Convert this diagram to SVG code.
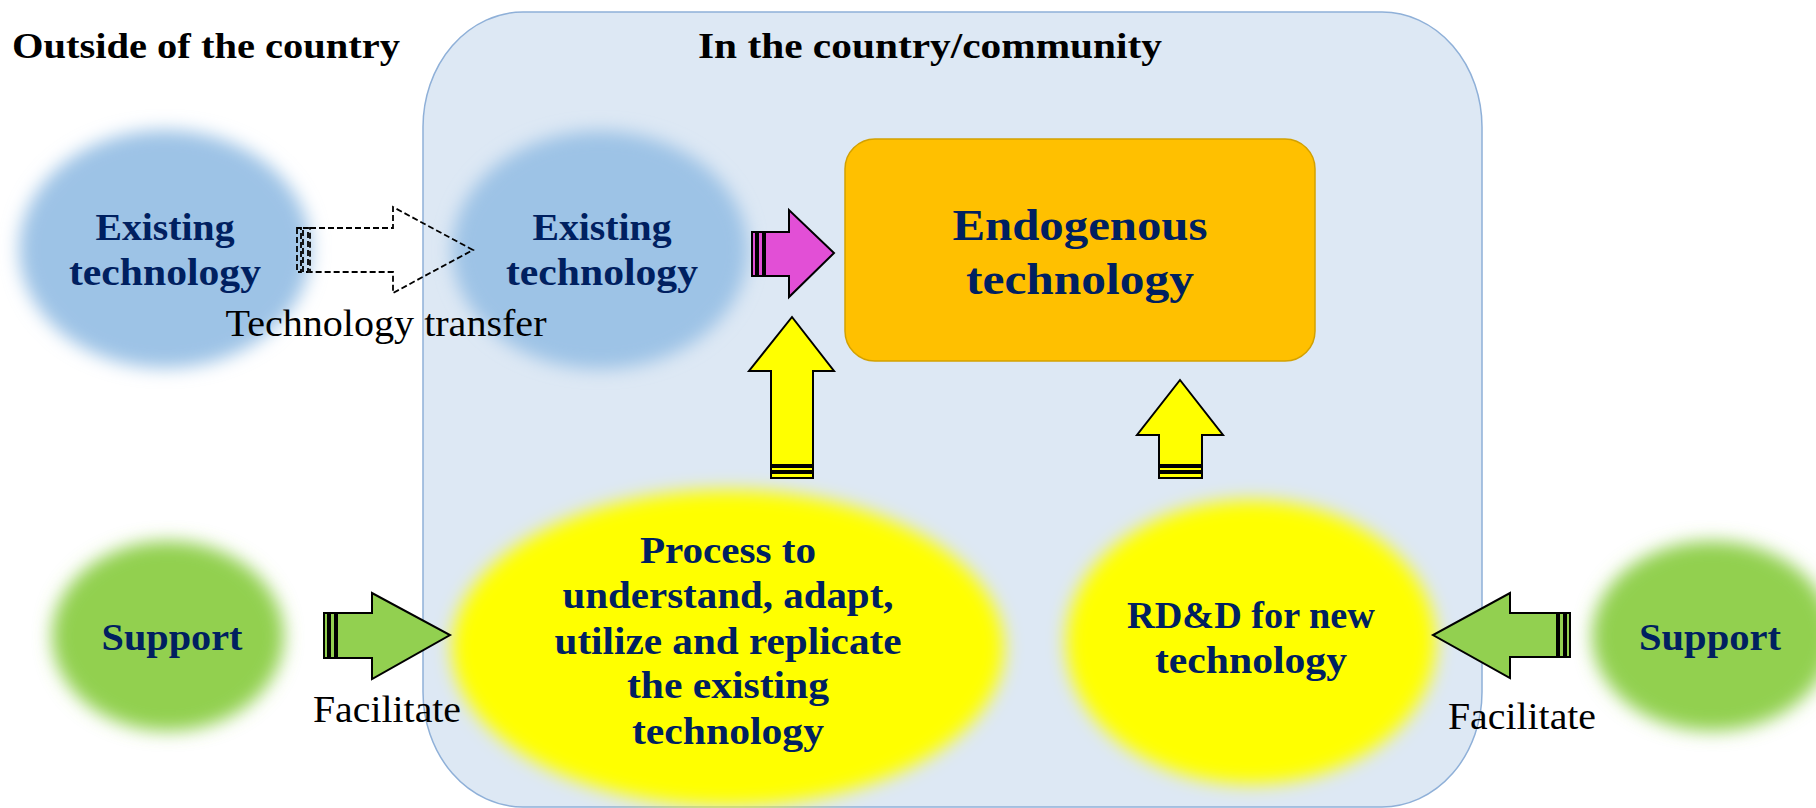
<svg xmlns="http://www.w3.org/2000/svg" width="1816" height="808" viewBox="0 0 1816 808">
<style>
.t{font-family:"Liberation Serif","DejaVu Serif",serif;}
.b{font-weight:bold;fill:#002060;font-size:38px;}
.h{font-weight:bold;fill:#000;font-size:36px;}
.r{fill:#000;font-size:38px;}
.arr{stroke:#000;stroke-width:2;stroke-linejoin:miter;}
</style>
<defs>
<filter id="soft" x="-20%" y="-20%" width="140%" height="140%"><feGaussianBlur stdDeviation="9"/></filter>
</defs>
<rect width="1816" height="808" fill="#fff"/>
<g id="container">
<rect x="423" y="12" width="1059" height="795" rx="100" ry="115" fill="#dde8f4" stroke="#8fb0d8" stroke-width="1.5"/>
</g>
<g id="labels">
<text class="t h" x="12" y="58" textLength="388" lengthAdjust="spacingAndGlyphs">Outside of the country</text>
<text class="t h" x="930" y="58" text-anchor="middle" textLength="464" lengthAdjust="spacingAndGlyphs">In the country/community</text>
</g>
<g id="existing-outside">
<ellipse cx="165" cy="249" rx="146" ry="119" fill="#9dc3e6" filter="url(#soft)"/>
<text class="t b" x="165" y="240" text-anchor="middle" textLength="139" lengthAdjust="spacingAndGlyphs">Existing</text>
<text class="t b" x="165" y="285" text-anchor="middle" textLength="192" lengthAdjust="spacingAndGlyphs">technology</text>
</g>
<g id="existing-inside">
<ellipse cx="600" cy="250" rx="148" ry="119" fill="#9dc3e6" filter="url(#soft)"/>
<text class="t b" x="602" y="240" text-anchor="middle" textLength="139" lengthAdjust="spacingAndGlyphs">Existing</text>
<text class="t b" x="602" y="285" text-anchor="middle" textLength="192" lengthAdjust="spacingAndGlyphs">technology</text>
</g>
<g id="endogenous">
<rect x="845" y="139" width="470" height="222" rx="30" fill="#ffc000" stroke="#d3a100" stroke-width="1.5"/>
<text class="t" x="1080" y="240" text-anchor="middle" font-weight="bold" fill="#002060" font-size="45" textLength="255" lengthAdjust="spacingAndGlyphs">Endogenous</text>
<text class="t" x="1080" y="294" text-anchor="middle" font-weight="bold" fill="#002060" font-size="45" textLength="228" lengthAdjust="spacingAndGlyphs">technology</text>
</g>
<g id="process">
<ellipse cx="728" cy="648" rx="276" ry="158" fill="#ffff00" filter="url(#soft)"/>
<text class="t b" x="728" y="563" text-anchor="middle" textLength="176" lengthAdjust="spacingAndGlyphs">Process to</text>
<text class="t b" x="728" y="608" text-anchor="middle" textLength="331" lengthAdjust="spacingAndGlyphs">understand, adapt,</text>
<text class="t b" x="728" y="654" text-anchor="middle" textLength="347" lengthAdjust="spacingAndGlyphs">utilize and replicate</text>
<text class="t b" x="728" y="698" text-anchor="middle" textLength="202" lengthAdjust="spacingAndGlyphs">the existing</text>
<text class="t b" x="728" y="744" text-anchor="middle" textLength="192" lengthAdjust="spacingAndGlyphs">technology</text>
</g>
<g id="rdd">
<ellipse cx="1251" cy="642" rx="185" ry="142" fill="#ffff00" filter="url(#soft)"/>
<text class="t b" x="1251" y="628" text-anchor="middle" textLength="248" lengthAdjust="spacingAndGlyphs">RD&amp;D for new</text>
<text class="t b" x="1251" y="673" text-anchor="middle" textLength="192" lengthAdjust="spacingAndGlyphs">technology</text>
</g>
<g id="support-left">
<ellipse cx="168" cy="636" rx="116" ry="95" fill="#92d050" filter="url(#soft)"/>
<text class="t b" x="172" y="650" text-anchor="middle" textLength="141" lengthAdjust="spacingAndGlyphs">Support</text>
</g>
<g id="support-right">
<ellipse cx="1712" cy="636" rx="120" ry="95" fill="#92d050" filter="url(#soft)"/>
<text class="t b" x="1710" y="650" text-anchor="middle" textLength="142" lengthAdjust="spacingAndGlyphs">Support</text>
</g>
<g id="connectors">
<g id="transfer-arrow" fill="none" stroke="#000" stroke-width="1.8" stroke-dasharray="6 3">
<rect x="297" y="228" width="4" height="44"/>
<rect x="303" y="228" width="5" height="44"/>
<path d="M310,228 H393 V207 L473,250 L393,293 V272 H310 Z"/>
</g>
<g id="magenta-arrow" class="arr" fill="#e24fd6">
<rect x="752" y="232" width="4" height="44"/>
<rect x="758" y="232" width="5" height="44"/>
<path d="M765,232 H789 V210 L834,253 L789,297 V276 H765 Z"/>
</g>
<g id="up-arrow-left" class="arr" fill="#ffff00">
<path d="M771,465 V371 H749 L792,317 L834,371 H813 V465 Z"/>
<rect x="771" y="467" width="42" height="4"/>
<rect x="771" y="473" width="42" height="5"/>
</g>
<g id="up-arrow-right" class="arr" fill="#ffff00">
<path d="M1159,465 V435 H1137 L1180,380 L1223,435 H1202 V465 Z"/>
<rect x="1159" y="467" width="43" height="4"/>
<rect x="1159" y="473" width="43" height="5"/>
</g>
<g id="green-arrow-left" class="arr" fill="#92d050">
<rect x="324" y="613" width="4" height="45"/>
<rect x="330" y="613" width="5" height="45"/>
<path d="M337,613 H372 V593 L450,635 L372,679 V658 H337 Z"/>
</g>
<g id="green-arrow-right" class="arr" fill="#92d050">
<path d="M1557,613 H1510 V593 L1433,635 L1510,678 V657 H1557 Z"/>
<rect x="1559" y="613" width="5" height="44"/>
<rect x="1566" y="613" width="4" height="44"/>
</g>
<text class="t r" x="386" y="336" text-anchor="middle" textLength="321" lengthAdjust="spacingAndGlyphs">Technology transfer</text>
<text class="t r" x="387" y="722" text-anchor="middle" textLength="148" lengthAdjust="spacingAndGlyphs">Facilitate</text>
<text class="t r" x="1522" y="729" text-anchor="middle" textLength="148" lengthAdjust="spacingAndGlyphs">Facilitate</text>
</g>
</svg>
